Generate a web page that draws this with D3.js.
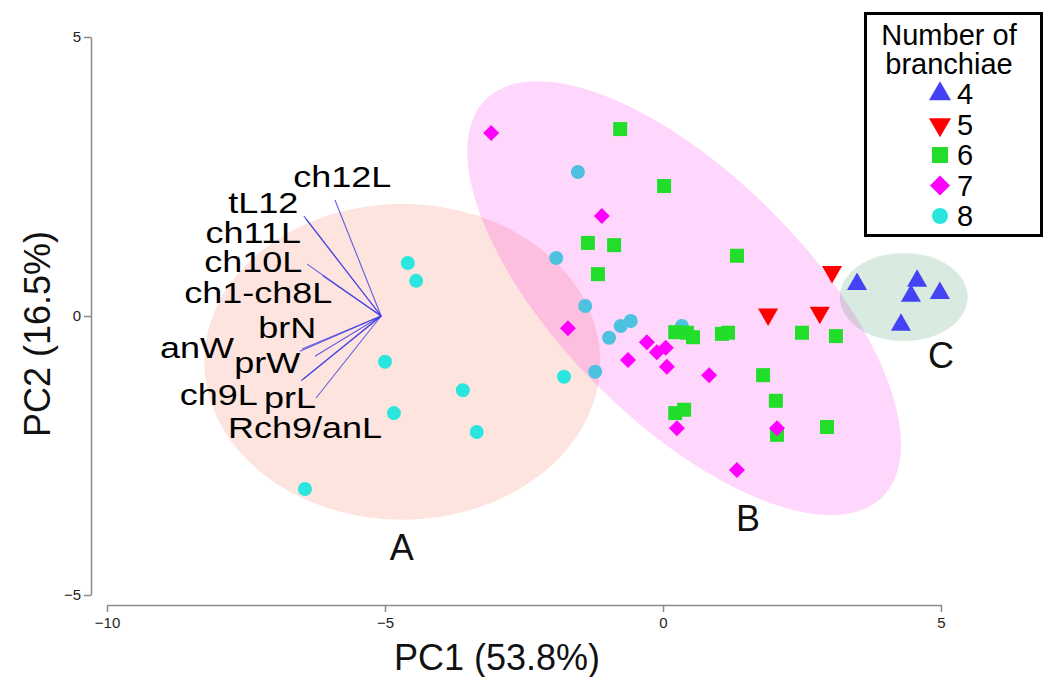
<!DOCTYPE html>
<html><head><meta charset="utf-8">
<script src="https://cdn.jsdelivr.net/npm/d3@7"></script>
<style>
html,body{margin:0;padding:0;background:#fff;}
svg{display:block;font-family:"Liberation Sans",Arial,sans-serif;}
</style></head>
<body><svg id="chart" width="1047" height="677"></svg>
<script>
// ---------- DATA ----------
const groups = ["4", "5", "6", "7", "8"];
const groupColors = ["#4343f5", "#ff0000", "#22dd2a", "#ff00ff", "#2be6de"];

const pts4 = [[3.49,0.57],[4.57,0.63],[4.98,0.41],[4.46,0.36],[4.28,-0.16]];
const pts5 = [[3.04,0.79],[1.89,0.03],[2.82,0.06]];
const pts6 = [[-0.77,3.35],[0.02,2.33],[-1.35,1.31],[-0.88,1.27],[-1.17,0.75],[1.33,1.08],
  [0.22,-0.29],[0.43,-0.30],[0.54,-0.38],[1.06,-0.32],[1.17,-0.30],[2.50,-0.30],[3.11,-0.36],
  [1.80,-1.06],[2.03,-1.52],[0.22,-1.74],[0.38,-1.68],[2.05,-2.13],[2.95,-1.99]];
const pts7 = [[-3.09,3.28],[-1.10,1.79],[-1.71,-0.22],[-0.63,-0.79],[-0.29,-0.47],[-0.11,-0.65],
  [0.05,-0.57],[0.07,-0.91],[0.83,-1.06],[0.25,-2.01],[2.05,-2.01],[1.33,-2.76]];
const pts8 = [[-6.44,-3.10],[-4.59,0.95],[-4.44,0.63],[-5.00,-0.82],[-4.84,-1.74],[-3.60,-1.33],
  [-3.35,-2.08],[-1.92,1.04],[-1.53,2.58],[-1.40,0.18],[-1.78,-1.09],[-1.22,-1.00],
  [-0.97,-0.39],[-0.76,-0.18],[-0.58,-0.09],[0.34,-0.18]];

// confidence ellipses: centre, semi-axes, rotation (deg, data space)
const ellipseNames  = ["A", "B", "C"];
const ellipseCenter = [[-4.69,-0.82],[0.38,0.32],[4.33,0.34]];
const ellipseRadii  = [[3.56,2.83],[5.05,2.21],[1.15,0.79]];
const ellipseAngle  = [0, -45, 0];
const ellipseLabelPos = [[-4.7,-4.37],[1.53,-3.85],[5.0,-0.93]];

// biplot loadings
const loadOrigin = [-5.07, 0];
const loadNames = ["ch12L","tL12","ch11L","ch10L","ch1-ch8L","brN","anW","prW","ch9L","Rch9/anL","prL"];
const loadEnds = [[-5.90,2.08],[-6.46,1.79],[-6.42,1.74],[-6.40,0.93],[-6.12,0.72],
  [-6.49,-0.59],[-6.53,-0.63],[-6.26,-0.72],[-6.51,-1.16],[-6.47,-1.13],[-6.24,-1.47]];
const loadLabelPos = [[-5.77,2.31],[-7.19,1.85],[-7.37,1.31],[-7.37,0.79],[-7.28,0.23],
  [-6.76,-0.39],[-8.38,-0.75],[-7.12,-1.02],[-7.99,-1.59],[-6.44,-2.19],[-6.71,-1.65]];

const xTicks = [-10, -5, 0, 5];
const yTicks = [-5, 0, 5];
const xTitle = "PC1 (53.8%)";
const yTitle = "PC2 (16.5%)";
const legendTitle = ["Number of", "branchiae"];

// ---------- CHART ----------
const svg = d3.select("#chart");
const x = d3.scaleLinear().domain([-10, 5]).range([107, 941]);
const y = d3.scaleLinear().domain([-5, 5]).range([595, 37]);
const kx = (x(1) - x(0)), ky = (y(0) - y(1));

// axes
const xAxis = svg.append("g").attr("transform", "translate(0,605)")
  .call(d3.axisBottom(x).tickValues(xTicks).tickSize(7).tickSizeOuter(0).tickFormat(d3.format("d")));
const yAxis = svg.append("g").attr("transform", "translate(91,0)")
  .call(d3.axisLeft(y).tickValues(yTicks).tickSize(7).tickSizeOuter(0).tickFormat(d3.format("d")));
[xAxis, yAxis].forEach(a => {
  a.select(".domain").attr("stroke", "#8a8a8a").attr("stroke-width", 1.5);
  a.selectAll(".tick line").attr("stroke", "#8a8a8a").attr("stroke-width", 1.5);
  a.selectAll(".tick text").attr("fill", "#222").attr("font-size", 15)
   .attr("font-family", "Liberation Sans, Arial, sans-serif");
});
xAxis.selectAll(".tick text").attr("dy", "0.85em");
yAxis.selectAll(".tick text").attr("x", -10);

svg.append("text").attr("x", 497).attr("y", 670).attr("text-anchor", "middle")
  .attr("font-size", 36).attr("fill", "#111").text(xTitle);
svg.append("text").attr("transform", "translate(50,334) rotate(-90)").attr("text-anchor", "middle")
  .attr("font-size", 36).attr("fill", "#111").text(yTitle);

const ellFill = ["#f47a5a", "#ff00ee", "#2e8b57"];
const ellOp = [0.2, 0.16, 0.18];
function drawEllipse(i) {
  svg.append("ellipse")
    .attr("transform", `translate(${x(ellipseCenter[i][0])},${y(ellipseCenter[i][1])}) rotate(${-ellipseAngle[i]})`)
    .attr("rx", ellipseRadii[i][0] * kx).attr("ry", ellipseRadii[i][1] * ky)
    .attr("fill", ellFill[i]).attr("fill-opacity", ellOp[i]);
}

const sym = {
  "4": {type: d3.symbolTriangle, size: 175, rot: 0},
  "5": {type: d3.symbolTriangle, size: 175, rot: 180},
  "6": {type: d3.symbolSquare, size: 196, rot: 0},
  "7": {type: d3.symbolSquare, size: 128, rot: 45},
  "8": {type: d3.symbolCircle, size: 154, rot: 0}
};
const allPts = {"4": pts4, "5": pts5, "6": pts6, "7": pts7, "8": pts8};
function drawPoints(g) {
  const s = sym[g];
  const col = groupColors[groups.indexOf(g)];
  svg.append("g").selectAll("path").data(allPts[g]).join("path")
    .attr("d", d3.symbol().type(s.type).size(s.size))
    .attr("transform", d => `translate(${x(d[0])},${y(d[1])}) rotate(${s.rot})`)
    .attr("fill", col);
}

drawEllipse(0);
drawPoints("8");
drawEllipse(1);
drawPoints("6");
drawPoints("7");
drawPoints("5");
drawEllipse(2);
drawPoints("4");

// ellipse labels
svg.append("g").selectAll("text").data(ellipseNames).join("text")
  .attr("x", (d, i) => x(ellipseLabelPos[i][0])).attr("y", (d, i) => y(ellipseLabelPos[i][1]))
  .attr("text-anchor", "middle").attr("font-size", 36).attr("fill", "#111").text(d => d);

// loadings
svg.append("g").selectAll("line").data(loadEnds).join("line")
  .attr("x1", x(loadOrigin[0])).attr("y1", y(loadOrigin[1]))
  .attr("x2", d => x(d[0])).attr("y2", d => y(d[1]))
  .attr("stroke", "#3a3ae6").attr("stroke-opacity", 0.8).attr("stroke-width", 1.1);
svg.append("g").selectAll("text").data(loadNames).join("text")
  .attr("transform", (d, i) => `translate(${x(loadLabelPos[i][0])},${y(loadLabelPos[i][1])}) scale(1.2,1)`)
  .attr("text-anchor", "middle").attr("font-size", 30).attr("fill", "#000").text(d => d);

// legend
const lg = svg.append("g");
lg.append("rect").attr("x", 865.5).attr("y", 13.5).attr("width", 176).attr("height", 222)
  .attr("fill", "#fff").attr("stroke", "#000").attr("stroke-width", 3);
lg.selectAll("text.t").data(legendTitle).join("text").attr("class", "t")
  .attr("x", 949).attr("y", (d, i) => 45 + i * 29).attr("text-anchor", "middle")
  .attr("font-size", 29).attr("fill", "#000").text(d => d);
const legSize = {"4": 210, "5": 210, "6": 256, "7": 200, "8": 200};
const li = lg.selectAll("g.item").data(groups).join("g").attr("class", "item")
  .attr("transform", (d, i) => `translate(940,${94 + i * 30.5})`);
li.append("path")
  .attr("d", d => d3.symbol().type(sym[d].type).size(legSize[d])())
  .attr("transform", d => `rotate(${sym[d].rot})`)
  .attr("fill", (d, i) => groupColors[i]);
li.append("text").attr("x", 17).attr("y", 10).attr("font-size", 29).attr("fill", "#000").text(d => d);
</script></body></html>
